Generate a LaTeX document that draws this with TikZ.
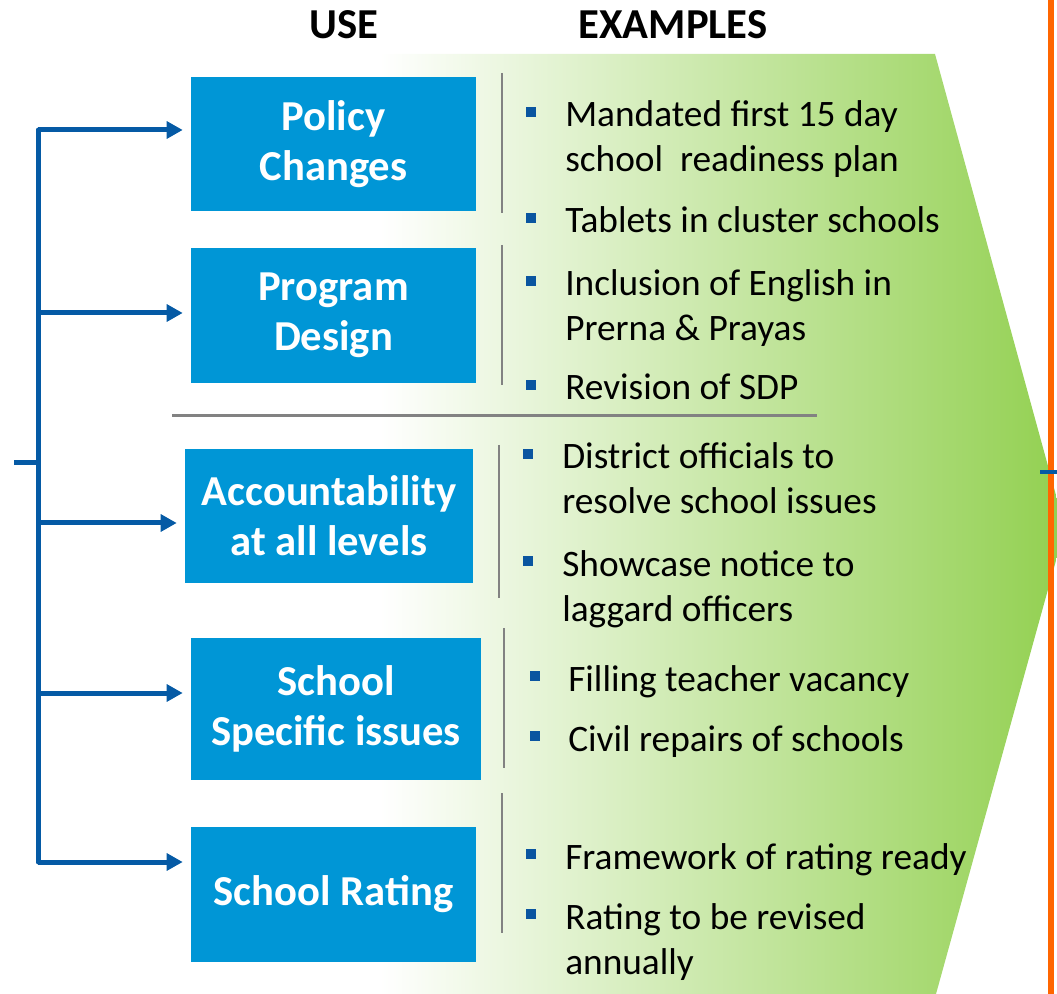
\documentclass[tikz,border=0pt]{standalone}
\usepackage{fontspec}
\setmainfont{Carlito}
\usetikzlibrary{arrows.meta}
\definecolor{boxblue}{RGB}{0, 150, 214}
\definecolor{linkblue}{RGB}{5, 90, 165}
\definecolor{dotblue}{RGB}{10, 85, 160}
\definecolor{leafgreen}{RGB}{146, 208, 80}
\definecolor{rulegray}{RGB}{130, 130, 130}
\definecolor{edgeorange}{RGB}{255, 102, 0}

\begin{document}
\begin{tikzpicture}[
    x=0.75pt, y=-0.75pt, % one unit per pixel, y pointing down
    every node/.style={font=\fontsize{28}{33.75}\selectfont},
    usebox/.style={rectangle, fill=boxblue, text=white, align=center, inner sep=0pt,
                   font=\fontsize{32}{37.5}\selectfont\bfseries},
    head/.style={font=\fontsize{32}{38}\selectfont\bfseries},
    item/.style={anchor=base west, align=left, inner sep=0pt}, % base = last line
    dot/.style={rectangle, fill=dotblue, minimum size=7.5pt, inner sep=0pt},
    spine/.style={line width=3.75pt, draw=linkblue, line cap=round},
    arrow/.style={-{Triangle[length=12pt, width=12.5pt]}, line width=3.75pt,
                  draw=linkblue, shorten >=6pt},
    divider/.style={draw=rulegray, line width=1.5pt}
]
\useasboundingbox (0,0) rectangle (1057,994);

% Green chevron behind the examples
\shade[left color=white, right color=leafgreen]
    (380,54) -- (935,54) -- (1065,528) -- (936,994) -- (380,994) -- cycle;

% Column heads
\node[head] (usehead) at (344,25) {USE};
\node[head] (exhead)  at (673,25) {EXAMPLES};

% Uses
\node[usebox, minimum width=213.75pt, minimum height=100.5pt]  (policy)   at (333.5,144)   {Policy\\Changes};
\node[usebox, minimum width=213.75pt, minimum height=101.25pt] (program)  at (333.5,315.5) {Program\\Design};
\node[usebox, minimum width=216pt,    minimum height=100.5pt]  (account)  at (329,516)     {Accountability\\at all levels};
\node[usebox, minimum width=217.5pt,  minimum height=106.5pt]  (specific) at (336,709)     {School\\Specific issues};
\node[usebox, minimum width=213.75pt, minimum height=101.25pt] (rating)   at (333.5,894.5) {School Rating};

% Rules
\draw[divider] (502,73) -- (502,213);
\draw[divider] (502,245) -- (502,385);
\draw[divider] (499,445) -- (499,598);
\draw[divider] (504,628) -- (504,768);
\draw[divider] (502,793) -- (502,933);
\draw[divider, line width=2.25pt] (172,416) -- (817,416);

% Examples
\node[item] (ex1a) at (565,172) {Mandated first 15 day\\school\ \ readiness plan};
\node[item] (ex1b) at (565,233) {Tablets in cluster schools};
\node[item] (ex2a) at (565,341) {Inclusion of English in\\Prerna \& Prayas};
\node[item] (ex2b) at (565,400) {Revision of SDP};
\node[item] (ex3a) at (562,514) {District officials to\\resolve school issues};
\node[item] (ex3b) at (562,621) {Showcase notice to\\laggard officers};
\node[item] (ex4a) at (568,691) {Filling teacher vacancy};
\node[item] (ex4b) at (568,751) {Civil repairs of schools};
\node[item] (ex5a) at (565,869) {Framework of rating ready};
\node[item] (ex5b) at (565,974) {Rating to be revised\\annually};

\foreach \x/\y in {531/112, 531/218, 531/281, 531/385, 528/454, 528/561,
                   535/676, 535/736, 531/854, 531/914}
    \node[dot] at (\x,\y) {};

% Bracket
\coordinate (s1) at (38,130);
\coordinate (s2) at (38,313);
\coordinate (s3) at (38,523);
\coordinate (s4) at (38,693);
\coordinate (s5) at (38,862);
\coordinate (join) at (38,463);
\coordinate (in) at (14,463);
\draw[spine] (s1) -- (s5);
\draw[spine, line cap=butt] (in) -- (join);
\foreach \s/\n in {s1/policy, s2/program, s3/account, s4/specific, s5/rating}
    \draw[arrow] (\s) -- (\s -| \n.west);

% Outer edge
\coordinate (edgetop) at (1051,0);
\coordinate (edgebot) at (1051,994);
\coordinate (out) at (1040,472);
\draw[line width=4.5pt, edgeorange] (edgetop) -- (edgebot);
\draw[line width=3pt, linkblue] (out) -- (out -| edgetop) -- ++(6,0);

\end{tikzpicture}
\end{document}
